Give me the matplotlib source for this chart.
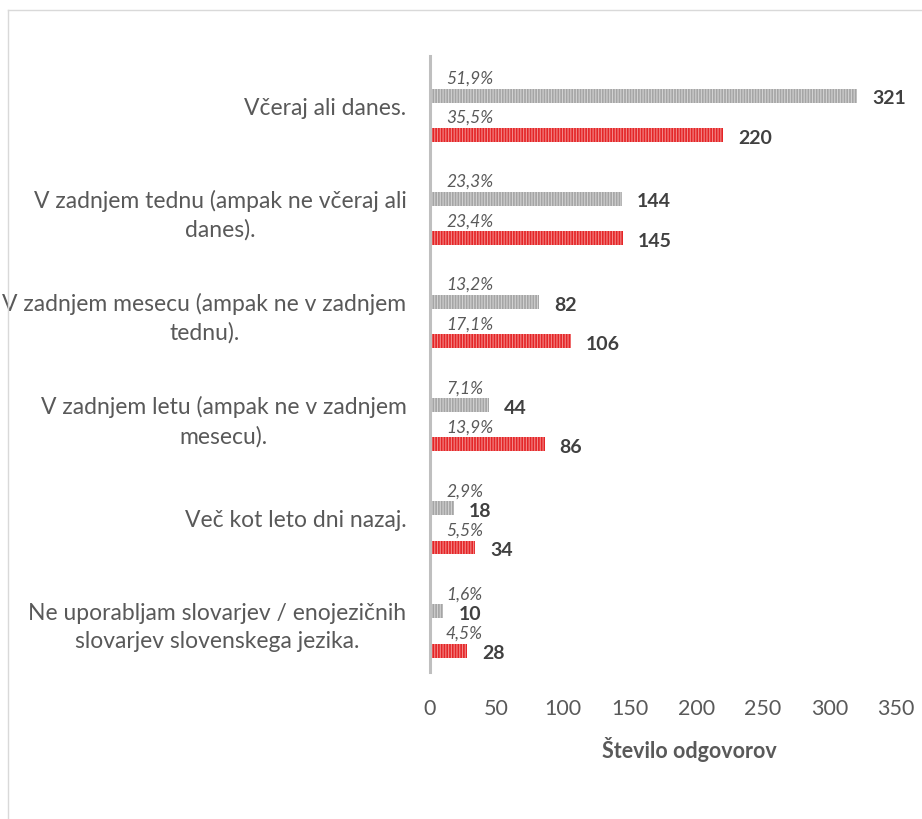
import matplotlib
matplotlib.use("Agg")
import matplotlib.pyplot as plt
import numpy as np
from matplotlib.lines import Line2D

plt.rcParams['font.family'] = ['Lato', 'DejaVu Sans']
plt.rcParams['hatch.linewidth'] = 0.8

categories = [
    "Včeraj ali danes.",
    "V zadnjem tednu (ampak ne včeraj ali\ndanes).",
    "V zadnjem mesecu (ampak ne v zadnjem\ntednu).",
    "V zadnjem letu (ampak ne v zadnjem\nmesecu).",
    "Več kot leto dni nazaj.",
    "Ne uporabljam slovarjev / enojezičnih\nslovarjev slovenskega jezika.",
]
gray_counts = [321, 144, 82, 44, 18, 10]
gray_pct = ["51,9%", "23,3%", "13,2%", "7,1%", "2,9%", "1,6%"]
red_counts = [220, 145, 106, 86, 34, 28]
red_pct = ["35,5%", "23,4%", "17,1%", "13,9%", "5,5%", "4,5%"]
xticks = [0, 50, 100, 150, 200, 250, 300, 350]
xlabel = "Število odgovorov"

W, H = 922, 820
fig = plt.figure(figsize=(W / 100, H / 100), dpi=100)
ax = fig.add_axes([430 / W, 1 - 673 / H, (896 - 430) / W, (673 - 57) / H])

y = np.arange(len(categories))
off = 0.19
bh = 0.135
gray_bars = ax.barh(y - off, gray_counts, height=bh, color='#A5A5A5',
                    edgecolor='#D2D2D2', linewidth=0, hatch='||||||')
red_bars = ax.barh(y + off, red_counts, height=bh, color='#E42527',
                   edgecolor='#F38888', linewidth=0, hatch='||||||')

for bars, pcts in ((gray_bars, gray_pct), (red_bars, red_pct)):
    for b, p in zip(bars, pcts):
        yc = b.get_y() + b.get_height() / 2
        w = b.get_width()
        ax.annotate(str(int(w)), xy=(w, yc), xytext=(15, -2), textcoords='offset pixels',
                    ha='left', va='center', fontsize=14, fontweight='bold', color='#404040')
        ax.annotate(p, xy=(0, yc), xytext=(16, 18), textcoords='offset pixels',
                    ha='left', va='center', fontsize=12.5, fontstyle='italic', color='#595959')

ax.set_xlim(0, 350)
ax.set_ylim(5.398, -0.577)
ax.set_xticks(xticks)
ax.set_xticklabels([str(t) for t in xticks])
ax.set_yticks(y - 0.1)
ax.set_yticklabels(categories, multialignment='center', linespacing=1.45)
ax.tick_params(axis='both', length=0, colors='#595959')
ax.tick_params(axis='x', labelsize=15.5, pad=19)
ax.tick_params(axis='y', labelsize=16.5, pad=17)
for s in ('top', 'right', 'bottom'):
    ax.spines[s].set_visible(False)
ax.spines['left'].set_color('#BFBFBF')
ax.spines['left'].set_linewidth(2.2)

ax.set_xlabel(xlabel, fontsize=15.5, fontweight='bold', color='#595959')
ax.xaxis.set_label_coords((689 - 430) / (896 - 430), 1 - (750 - 57) / (673 - 57))
ax.xaxis.label.set_va('center')

# outer chart border
fig.add_artist(Line2D([7.5 / W, 7.5 / W], [0, 1 - 10.5 / H], transform=fig.transFigure,
                      color='#D9D9D9', linewidth=1))
fig.add_artist(Line2D([7.5 / W, 1], [1 - 10.5 / H, 1 - 10.5 / H], transform=fig.transFigure,
                      color='#D9D9D9', linewidth=1))

fig.savefig('out.png', dpi=100)
